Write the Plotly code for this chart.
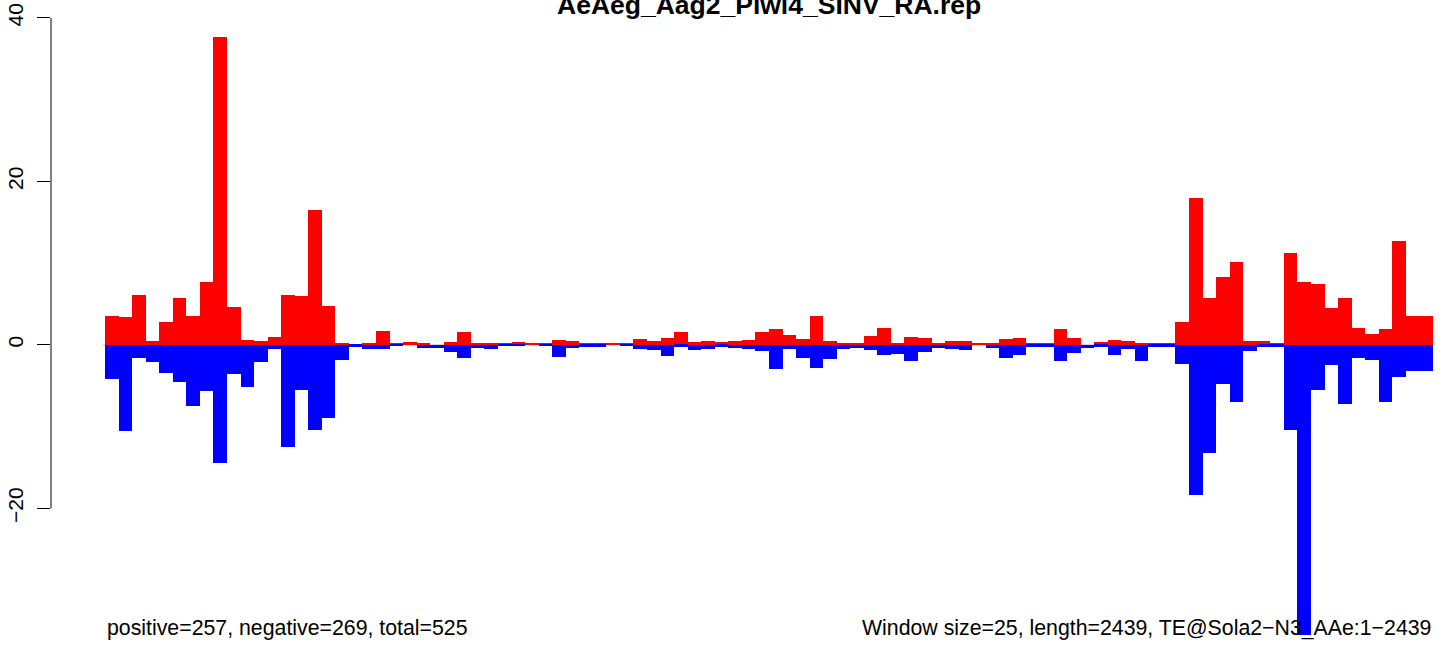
import plotly.graph_objects as go

# Data: 98 windows (window size 25, length 2439)
bins = list(range(1, 99))
positive = [3.55, 3.43, 6.12, 0.49, 2.81, 5.75, 3.55, 7.71, 37.68, 4.65,
            0.61, 0.49, 0.98, 6.12, 5.99, 16.51, 4.77, 0.24, 0.0, 0.24,
            1.71, 0.12, 0.37, 0.24, 0.0, 0.37, 1.59, 0.12, 0.24, 0.12,
            0.37, 0.12, 0.12, 0.61, 0.49, 0.12, 0.12, 0.12, 0.12, 0.73,
            0.49, 0.86, 1.59, 0.37, 0.49, 0.37, 0.49, 0.61, 1.59, 1.96,
            1.22, 0.73, 3.55, 0.49, 0.12, 0.24, 1.10, 2.08, 0.12, 0.98,
            0.86, 0.12, 0.49, 0.49, 0.12, 0.12, 0.73, 0.86, 0.12, 0.24,
            1.96, 0.86, 0.0, 0.37, 0.61, 0.49, 0.12, 0.12, 0.12, 2.81,
            17.98, 5.75, 8.32, 10.15, 0.49, 0.49, 0.16, 11.25, 7.71, 7.46,
            4.53, 5.75, 2.08, 1.35, 1.96, 12.72, 3.55, 3.55]
negative = [-4.12, -10.48, -1.59, -2.08, -3.38, -4.53, -7.42, -5.63, -14.5, -3.51,
            -5.10, -2.08, -0.45, -12.44, -5.46, -10.36, -8.89, -1.79, -0.2, -0.45,
            -0.49, -0.08, 0.0, -0.33, -0.33, -0.82, -1.55, -0.33, -0.49, -0.08,
            -0.08, 0.0, -0.08, -1.43, -0.33, -0.2, -0.2, 0.0, -0.08, -0.49,
            -0.61, -1.30, -0.2, -0.61, -0.49, -0.2, -0.33, -0.49, -0.69, -2.94,
            -0.49, -1.55, -2.81, -1.71, -0.49, -0.33, -0.61, -1.22, -1.06, -1.96,
            -0.82, -0.33, -0.49, -0.61, 0.0, -0.33, -1.55, -1.22, -0.2, -0.2,
            -1.96, -0.98, -0.37, -0.2, -1.22, -0.49, -1.96, -0.24, -0.2, -2.28,
            -18.31, -13.17, -4.73, -6.93, -0.69, -0.2, -0.2, -10.36, -35.5, -5.5,
            -2.45, -7.22, -1.59, -1.83, -6.93, -3.87, -3.14, -3.14]
y_ticks = [-20, 0, 20, 40]
y_tick_labels = ["\u221220", "0", "20", "40"]

title_text = "AeAeg_Aag2_Piwi4_SINV_RA.rep"
left_text = "positive=257, negative=269, total=525"
right_text = "Window size=25, length=2439, TE@Sola2\u2212N3_AAe:1\u22122439"

xc = [b - 0.5 for b in bins]
n = len(bins)

fig = go.Figure()
fig.add_trace(go.Bar(x=xc, y=positive, width=1, marker=dict(color="#FF0000", line=dict(width=0)),
                     showlegend=False))
fig.add_trace(go.Bar(x=xc, y=negative, width=1, marker=dict(color="#0000FF", line=dict(width=0)),
                     showlegend=False))

font = "Liberation Sans, Arial, Helvetica, sans-serif"

fig.update_layout(
    width=1452, height=646,
    margin=dict(l=51, r=12, t=0, b=0, autoexpand=False),
    paper_bgcolor="white", plot_bgcolor="white",
    barmode="relative", bargap=0,
    font=dict(family=font, size=21, color="black"),
    xaxis=dict(range=[-3.985, 98.52], showgrid=False, zeroline=False, showline=False,
               showticklabels=False, ticks="", fixedrange=True, automargin=False),
    yaxis=dict(range=[-36.84, 42.2], showgrid=False, zeroline=False, showline=False,
               automargin=False,
               tickmode="array", tickvals=y_ticks, ticktext=y_tick_labels,
               ticks="outside", ticklen=13, tickwidth=1, tickcolor="black",
               ticklabelstandoff=6,
               tickangle=-90, tickfont=dict(size=21, family=font, color="black")),
    shapes=[
        dict(type="line", xref="paper", yref="y", x0=0, x1=0, y0=-20, y1=40,
             line=dict(color="black", width=1)),
        dict(type="line", xref="x", yref="y", x0=-0.15, x1=n, y0=0, y1=0,
             line=dict(color="#BEBEBE", width=1), layer="below"),
    ],
    annotations=[
        dict(text="<b>" + title_text + "</b>", xref="x", yref="paper", x=n / 2, y=1,
             xanchor="center", yanchor="top", yshift=12, showarrow=False,
             font=dict(size=26.5, family=font, color="black")),
        dict(text=left_text, xref="x", yref="paper", x=0, y=0, xanchor="left",
             yanchor="bottom", yshift=4, showarrow=False,
             font=dict(size=21.3, family=font, color="black")),
        dict(text=right_text, xref="x", yref="paper", x=n, y=0, xanchor="right",
             yanchor="bottom", yshift=4, showarrow=False,
             font=dict(size=21.3, family=font, color="black")),
    ],
)

# remove the browser's default page margin so the figure sits at the window origin
fig.write_html("out.html", config={"displayModeBar": False},
               post_script="document.body.style.margin='0';")
